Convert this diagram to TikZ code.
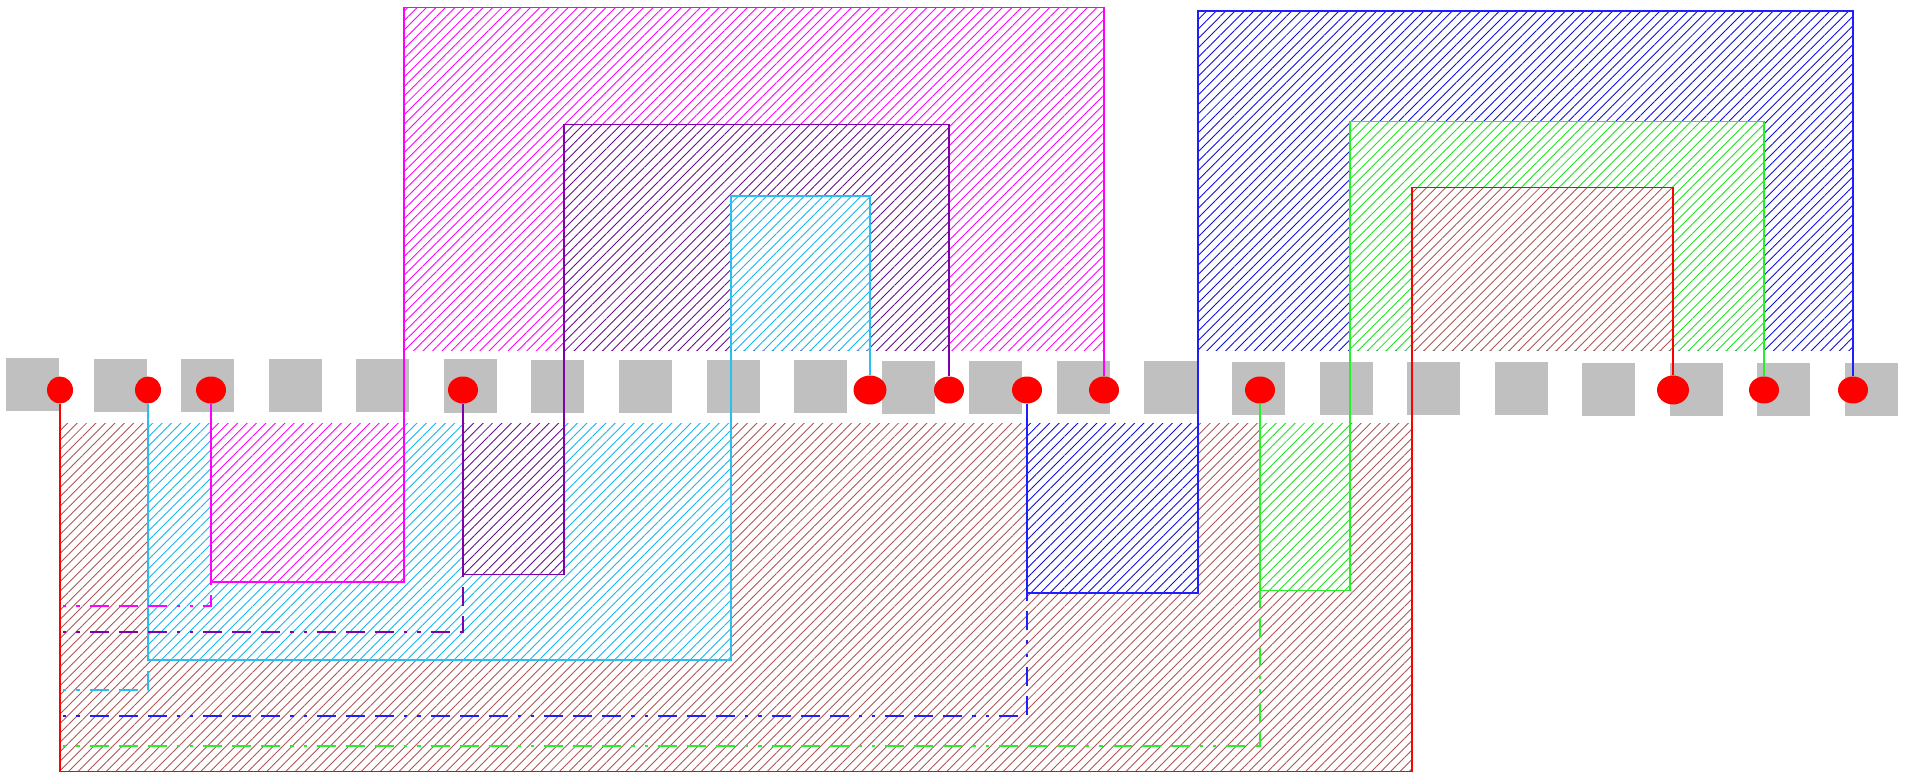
\documentclass[tikz,border=0pt]{standalone}
\usetikzlibrary{shapes.geometric,patterns.meta}
\definecolor{sqgrey}{RGB}{192,192,192}
\definecolor{cmag}{RGB}{255,0,255}
\definecolor{cpur}{RGB}{128,0,170}
\definecolor{ccya}{RGB}{45,190,240}
\definecolor{cblu}{RGB}{30,30,255}
\definecolor{cgre}{RGB}{40,240,40}
\definecolor{cred}{RGB}{255,0,0}
\definecolor{hmag}{RGB}{255,0,255}
\definecolor{hpur}{RGB}{100,15,140}
\definecolor{hcya}{RGB}{20,180,240}
\definecolor{hblu}{RGB}{15,15,220}
\definecolor{hgre}{RGB}{30,225,30}
\definecolor{hred}{RGB}{175,85,85}
\tikzset{
  sq/.style={fill=sqgrey,minimum size=30.2pt,inner sep=0pt},
  rdot/.style={ellipse,fill=red,inner sep=0pt},
  hatch/.style={preaction={fill=white},pattern={Lines[angle=45,distance=3.8pt,line width=0.5pt]},pattern color=#1},
  rim/.style={line width=0.65pt},
  dashdot/.style={line width=0.7pt,dash pattern=on 1.9pt off 5.7pt on 1.9pt off 5.7pt on 10.8pt off 5.7pt on 10.8pt off 5.7pt on 10.8pt off 5.7pt},
}
\begin{document}
\begin{tikzpicture}[x=0.02cm,y=-0.02cm]
\useasboundingbox (0,0) rectangle (1907,774);
% row of grey squares
\foreach \i in {0,...,21}
  \node[sq] (s\i) at ({32.5+87.57*\i},{384.8+0.238*\i}) {};
% red points
\foreach \n/\x/\w/\h in {1/60/26/27,2/148/26/27,3/211/30/27,4/463/30/27,5/870/33/29,6/949/30/27,
    7/1027/30/27,8/1104/30/27,9/1260/30/27,10/1673/32/29,11/1764/30/27,12/1853/30/27}
  \node[rdot,minimum width={\w*0.569pt},minimum height={\h*0.569pt}] (d\n) at (\x,390) {};
% hatched parts above the row
\foreach \c/\r/\t/\l in {hmag/8/7.5/404,hpur/6/124.5/564,hcya/5/196/731,
    hblu/12/11/1198,hgre/11/121.5/1350,hred/10/187.5/1412}
  \path[hatch=\c] (\l,\t) rectangle (d\r |- 0,350);
% hatched parts below the row
\foreach \c/\d/\l/\b in {hred/1/1412/771.5,hcya/2/731/660,hmag/3/404/582,
    hpur/4/564/574.5,hblu/7/1198/593,hgre/9/1350/590.5}
  \path[hatch=\c] (d\d |- 0,423) rectangle (\l,\b);
% loops from point to point
\foreach \n/\c/\r/\t/\l/\b/\d in {red/cred/10/187.5/1412/771.5/1,mag/cmag/8/7.5/404/582/3,
    pur/cpur/6/124.5/564/574.5/4,cya/ccya/5/196/731/660/2,
    blu/cblu/12/11/1198/593/7,gre/cgre/11/121.5/1350/590.5/9}{
  \coordinate (k\n) at (d\d |- \l,\b);
  \draw[rim,\c] (d\r) |- (\l,\t) -- (\l,\b) -- (k\n) -- (d\d);
}
% dash-dot returns to the left side
\foreach \n/\c/\y in {mag/cmag/606,pur/cpur/632,cya/ccya/690,blu/cblu/716,gre/cgre/746}{
  \coordinate (e\n) at (63,\y);
  \draw[dashdot,\c] (e\n) -| (k\n);
}
\end{tikzpicture}
\end{document}
